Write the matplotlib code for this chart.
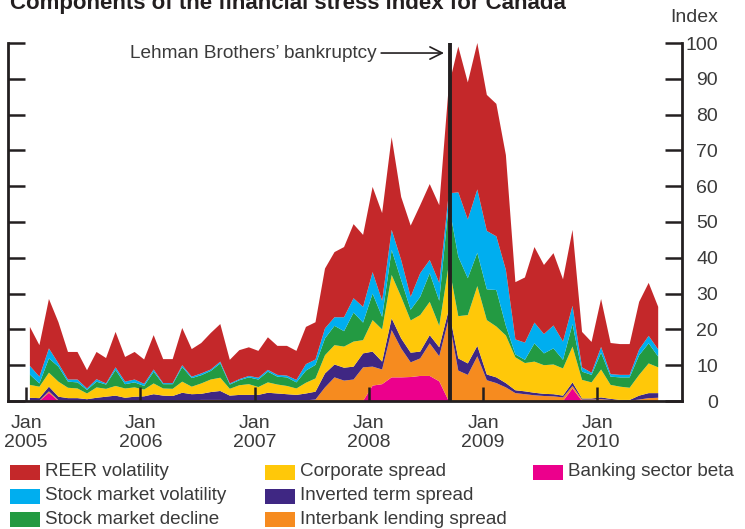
import numpy as np
import matplotlib
matplotlib.use("Agg")
import matplotlib.pyplot as plt
from matplotlib.patches import Rectangle

plt.rcParams['font.family'] = ['Liberation Sans', 'DejaVu Sans']

INK = '#231f20'
TXT = '#3a3a3a'
W, H = 745, 529

# monthly observations, Jan 2005 .. Jul 2010
banking_beta = [0, 0, 2.3, 0, 0, 0, 0, 0, 0, 0,
                0, 0, 0, 0, 0, 0, 0, 0, 0, 0,
                0, 0, 0, 0, 0, 0, 0, 0, 0, 0,
                0, 0, 0, 0, 0, 0, 4.3, 4.7, 6.6, 6.6,
                6.7, 7.0, 7.0, 5.5, 0, 0, 0, 0, 0, 0,
                0, 0, 0, 0, 0, 0, 0, 3.5, 0, 0,
                0, 0, 0, 0, 0, 0, 0]
interbank = [0.1, 0.1, 0.4, 0.2, 0.1, 0.1, 0.1, 0.1, 0.1, 0.1,
             0.1, 0.1, 0.1, 0.1, 0.1, 0.1, 0.2, 0.2, 0.3, 0.3,
             0.3, 0.2, 0.2, 0.2, 0.2, 0.2, 0.2, 0.2, 0.2, 0.2,
             0.4, 3.8, 6.6, 5.7, 6.0, 9.4, 5.3, 4.1, 13.2, 8.1,
             4.1, 4.9, 9.1, 7.0, 23.0, 8.5, 7.3, 12.5, 5.8, 5.0,
             3.8, 2.2, 1.9, 1.6, 1.4, 1.3, 1.0, 0.7, 0.4, 0.4,
             0.5, 0.3, 0.2, 0.1, 0.4, 0.8, 0.9]
inverted_term = [0.8, 0.7, 1.3, 1.0, 0.7, 0.7, 0.4, 0.8, 1.1, 1.4,
                 0.8, 1.1, 1.2, 1.8, 1.4, 1.3, 2.1, 1.7, 1.7, 2.2,
                 2.5, 1.3, 1.5, 1.5, 1.5, 2.1, 1.9, 1.7, 1.5, 1.9,
                 2.2, 3.9, 3.6, 3.6, 3.6, 3.9, 4.2, 2.2, 3.3, 2.8,
                 2.7, 1.9, 2.3, 2.5, 2.5, 3.4, 3.2, 2.9, 1.6, 1.6,
                 1.2, 0.8, 0.8, 0.7, 0.6, 0.6, 0.5, 1.0, 0.3, 0.3,
                 0.5, 0.3, 0.1, 0.2, 1.1, 1.4, 1.3]
corporate = [3.6, 3.2, 3.9, 4.2, 2.9, 2.7, 1.6, 2.9, 2.2, 2.7,
             2.6, 2.6, 1.9, 3.0, 2.0, 2.0, 3.1, 2.1, 2.9, 3.5,
             3.7, 1.9, 2.7, 3.0, 2.2, 2.9, 2.5, 2.3, 1.8, 3.0,
             3.7, 5.1, 5.4, 5.9, 7.0, 3.7, 8.8, 9.0, 12.1, 11.6,
             9.0, 10.2, 9.3, 6.0, 12.5, 11.8, 13.5, 16.7, 15.2, 14.2,
             13.3, 9.2, 7.9, 8.7, 8.0, 8.3, 7.6, 10.0, 5.2, 4.5,
             7.8, 3.9, 3.7, 3.4, 5.8, 8.3, 7.2]
stock_decline = [2.9, 0.9, 4.0, 4.2, 1.7, 1.7, 1.0, 1.6, 1.2, 4.5,
                 1.2, 1.4, 1.0, 3.3, 1.2, 1.3, 4.1, 2.4, 2.3, 2.4,
                 4.0, 1.2, 1.4, 1.9, 2.1, 3.0, 2.2, 2.4, 1.7, 3.4,
                 3.8, 4.7, 5.4, 4.3, 8.1, 4.9, 7.4, 3.5, 7.0, 4.7,
                 3.0, 5.1, 8.0, 7.0, 17.0, 16.6, 10.3, 9.3, 8.6, 10.2,
                 2.7, 0.8, 0.9, 5.1, 3.3, 4.5, 2.4, 6.3, 2.3, 2.1,
                 4.7, 2.3, 2.6, 2.9, 5.5, 5.6, 3.0]
stock_vol = [2.4, 1.9, 2.8, 0.9, 0.6, 0.8, 0.4, 0.7, 0.3, 0.7,
             0.7, 0.8, 0.6, 0.6, 0.3, 0.3, 0.5, 0.4, 0.5, 0.4,
             0.5, 0.3, 0.3, 0.4, 0.5, 0.5, 0.5, 0.5, 0.7, 1.8,
             1.5, 2.8, 2.4, 3.9, 4.0, 4.4, 6.0, 4.5, 5.6, 5.6,
             3.6, 6.6, 3.7, 5.0, 3.0, 18.0, 16.4, 17.7, 16.3, 15.0,
             15.6, 4.2, 4.8, 5.8, 5.4, 6.4, 5.1, 5.1, 1.2, 0.6,
             1.6, 0.7, 0.7, 0.7, 1.6, 2.1, 2.0]
reer_vol = [10.9, 8.8, 13.8, 11.5, 7.7, 7.7, 5.1, 7.6, 7.1, 9.9,
            6.9, 7.7, 6.8, 9.6, 6.7, 6.7, 10.4, 7.7, 8.5, 10.2,
            10.5, 6.6, 8.1, 8.0, 7.5, 9.1, 8.1, 8.3, 8.1, 10.4,
            10.4, 16.7, 18.2, 19.6, 20.7, 20.1, 23.8, 24.5, 25.9, 17.6,
            19.9, 19.0, 21.2, 21.7, 30.0, 40.7, 38.3, 40.9, 38.0, 37.0,
            32.1, 16.0, 18.2, 21.1, 19.3, 20.2, 17.4, 21.2, 9.9, 8.6,
            13.4, 8.7, 8.6, 8.6, 13.3, 14.8, 11.9]

years = [2005, 2006, 2007, 2008, 2009, 2010]
lehman_month = 44  # Sep 2008

labels = ['REER volatility', 'Stock market volatility', 'Stock market decline',
          'Corporate spread', 'Inverted term spread', 'Interbank lending spread',
          'Banking sector beta']
colors = {'REER volatility': '#c4282a', 'Stock market volatility': '#00aeef',
          'Stock market decline': '#239a42', 'Corporate spread': '#ffc809',
          'Inverted term spread': '#3f2783', 'Interbank lending spread': '#f68b1f',
          'Banking sector beta': '#ec008c'}

# bottom -> top stacking order
stack = [('Banking sector beta', banking_beta), ('Interbank lending spread', interbank),
         ('Inverted term spread', inverted_term), ('Corporate spread', corporate),
         ('Stock market decline', stock_decline), ('Stock market volatility', stock_vol),
         ('REER volatility', reer_vol)]

x = np.arange(len(reer_vol)) + 0.4

fig = plt.figure(figsize=(W / 100, H / 100), dpi=100)
ax = fig.add_axes([8 / W, 128 / H, 674 / W, 358 / H])

ax.stackplot(x, *[np.array(v) for _, v in stack],
             colors=[colors[k] for k, _ in stack], linewidth=0)

ax.axvline(lehman_month + 0.5, color=INK, lw=2.8, zorder=5)
ax.annotate('', xy=(lehman_month - 0.1, 97.2), xytext=(lehman_month - 6.7, 97.2),
            arrowprops=dict(arrowstyle='->', color=INK, lw=1.2,
                            mutation_scale=22, shrinkA=0, shrinkB=0))
ax.text(lehman_month - 7.2, 97.2, 'Lehman Brothers\u2019 bankruptcy', ha='right',
        va='center', fontsize=13.7, color=TXT)

ax.set_xlim(-1.9, 68.9)
ax.set_ylim(0, 100)
ax.spines['top'].set_visible(False)
for s in ['left', 'right', 'bottom']:
    ax.spines[s].set_linewidth(2)
    ax.spines[s].set_color(INK)

ax.set_yticks(np.arange(0, 101, 10))
ax.tick_params(axis='y', left=True, right=True, labelleft=False, labelright=True,
               direction='in', length=12, width=1.8, color=INK, pad=26,
               labelsize=14, labelcolor=TXT)
for lbl in ax.get_yticklabels():
    lbl.set_horizontalalignment('right')

ax.set_xticks([(y - 2005) * 12 for y in years])
ax.set_xticklabels(['Jan\n%d' % y for y in years], linespacing=1.15)
ax.tick_params(axis='x', direction='in', length=10, width=1.8, color=INK, pad=10,
               labelsize=14, labelcolor=TXT)

fig.text(718 / W, 1 - 17 / H, 'Index', ha='right', va='center', fontsize=14,
         color=TXT)
fig.text(10 / W, 1 - 9 / H, 'Components of the financial stress index for Canada',
         ha='left', va='baseline', fontsize=16, fontweight='bold', color=INK)

# legend, three columns
col_x = [10, 265, 533]
row_y = [472, 496, 519]
for n, lab in enumerate(labels):
    cx = col_x[n // 3]
    cy = row_y[n % 3]
    fig.add_artist(Rectangle((cx / W, 1 - (cy + 7.5) / H), 30 / W, 15 / H,
                             transform=fig.transFigure, color=colors[lab], lw=0))
    fig.text((cx + 35) / W, 1 - cy / H, lab, ha='left', va='center', fontsize=13.6,
             color=TXT)

fig.savefig('out.png', dpi=100)
